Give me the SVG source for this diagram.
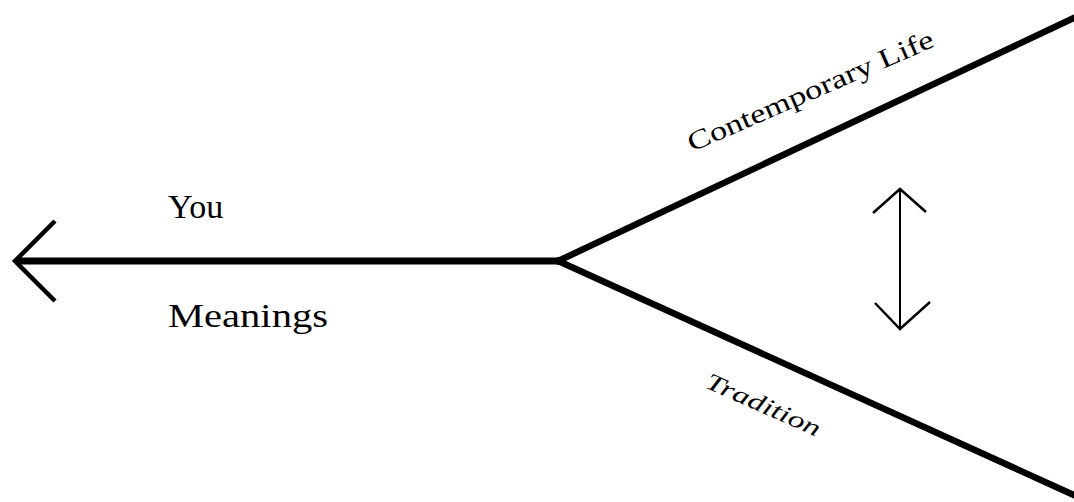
<svg xmlns="http://www.w3.org/2000/svg" width="1074" height="502" viewBox="0 0 1074 502">
<style>
.lbl{font-family:"Liberation Serif","Times New Roman",serif;fill:#000}
.thick{stroke:#000;fill:none;stroke-linecap:butt}
</style>
<rect width="1074" height="502" fill="#fff"/>
<g id="connectors">
<path class="thick" d="M16,261 L560,261" stroke-width="7"/>
<path class="thick" d="M55,221 L15,261 L55,301" stroke-width="4.5" stroke-linejoin="miter"/>
<path class="thick" d="M556,262 L1076,17" stroke-width="6.5"/>
<path class="thick" d="M556,260 L1076,496" stroke-width="6.5"/>
<g id="double-arrow">
<path class="thick" d="M900,189 L900,329" stroke-width="2"/>
<path class="thick" d="M873,213 L900,189 L926,212" stroke-width="2.5"/>
<path class="thick" d="M875,303 L900,329 L930,302" stroke-width="2.5"/>
</g>
</g>
<g id="you"><text class="lbl" x="168" y="218" font-size="34">You</text></g>
<g id="meanings"><text class="lbl" x="168" y="327" font-size="34" textLength="160" lengthAdjust="spacingAndGlyphs">Meanings</text></g>
<g id="contemporary-life"><text class="lbl" x="692" y="152" font-size="27" transform="rotate(-23.5 692 152)" textLength="266" lengthAdjust="spacingAndGlyphs">Contemporary Life</text></g>
<g id="tradition"><text class="lbl" x="704" y="387" font-size="24" font-style="italic" transform="rotate(24 704 387)" textLength="123" lengthAdjust="spacingAndGlyphs">Tradition</text></g>
</svg>
